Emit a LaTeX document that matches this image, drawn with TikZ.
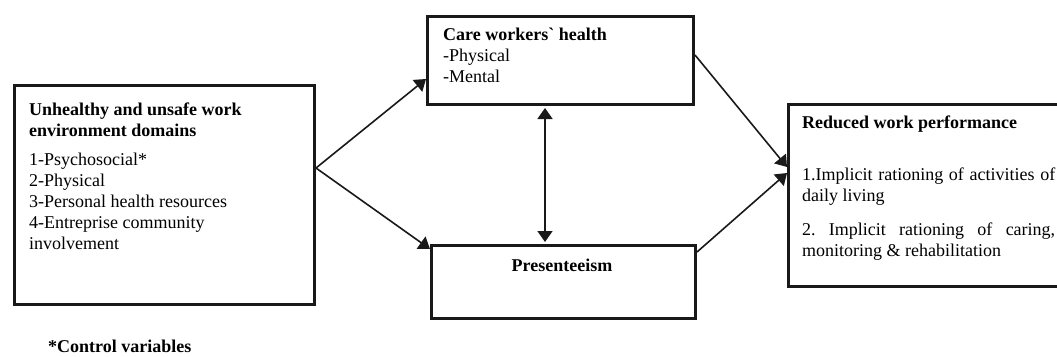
\documentclass[tikz,border=0pt]{standalone}
\usepackage{fontspec}
\setmainfont{Liberation Serif}
\newfontfamily\rawserif{Liberation Serif}
\usetikzlibrary{arrows.meta,calc}
\frenchspacing
\begin{document}
\begin{tikzpicture}[x=1pt,y=-1pt,
  box/.style={draw=black!90, line width=3pt, inner sep=0pt, anchor=north west},
  txt/.style={inner sep=0pt, anchor=base west, align=left, font=\fontsize{18}{21}\selectfont},
  blk/.style={inner sep=0pt, anchor=north west, align=left, font=\fontsize{18}{21}\selectfont\frenchspacing},
  tip/.tip={Triangle[length=11pt,width=15pt]},
  conn/.style={line width=1.6pt, draw=black!90, -tip},
]
\useasboundingbox (0,0) rectangle (1057,356);
% boxes
\node[box, minimum width=300pt, minimum height=219pt] (lbox) at (13,84) {};
\node[box, minimum width=266pt, minimum height=88pt] (cbox) at (426,15) {};
\node[box, minimum width=264pt, minimum height=73pt] (pbox) at (430,244) {};
\node[box, minimum width=290pt, minimum height=182pt] (rbox) at (787,103) {};
% texts
\node[blk, font=\fontsize{18}{21}\selectfont\bfseries] (lhead) at (29,100.3) {\strut Unhealthy and unsafe work\\environment domains};
\node[blk] (llist) at (29,150.3) {\strut 1-Psychosocial*\\2-Physical\\3-Personal health resources\\4-Entreprise community\\involvement};
\node[blk] (ctext) at (443,25.3) {\strut{\rawserif\bfseries Care workers` health}\\-Physical\\-Mental};
\node[txt, font=\fontsize{18}{21}\selectfont\bfseries, anchor=base] (ptext) at (562,271) {Presenteeism};
\node[txt, font=\fontsize{18}{21}\selectfont\bfseries] (rhead) at (802,128) {Reduced work performance};
\node[blk, text width=253pt, align=justify] (rlist) at (802,165.3) {\hyphenpenalty=10000\exhyphenpenalty=10000\strut 1.Implicit rationing of activities of daily living\par\vspace{13pt}2. Implicit rationing of caring, \mbox{monitoring} \& rehabilitation\par};
\node[txt, font=\fontsize{18}{21}\selectfont\bfseries] (note) at (48,352) {*Control variables};
% connector points
\coordinate (lout) at ($(lbox.north east)+(0,84)$);
\coordinate (cin) at ($(cbox.south west)+(0,-27)$);
\coordinate (pin) at ($(pbox.north west)+(0,5)$);
\coordinate (cout) at ($(cbox.north east)+(0,40)$);
\coordinate (pout) at ($(pbox.north east)+(0,8)$);
\coordinate (rin1) at ($(rbox.north west)+(0,64)$);
\coordinate (rin2) at ($(rbox.north west)+(0,70)$);
\coordinate (vtop) at ($(cbox.south west)+(119,2)$);
\coordinate (vbot) at ($(pbox.north west)+(115,-2)$);
% connectors
\draw[conn] (lout) -- (cin);
\draw[conn] (lout) -- (pin);
\draw[conn, tip-tip] (vtop) -- (vbot);
\draw[conn] (cout) -- (rin1);
\draw[conn] (pout) -- (rin2);
\end{tikzpicture}
\end{document}
